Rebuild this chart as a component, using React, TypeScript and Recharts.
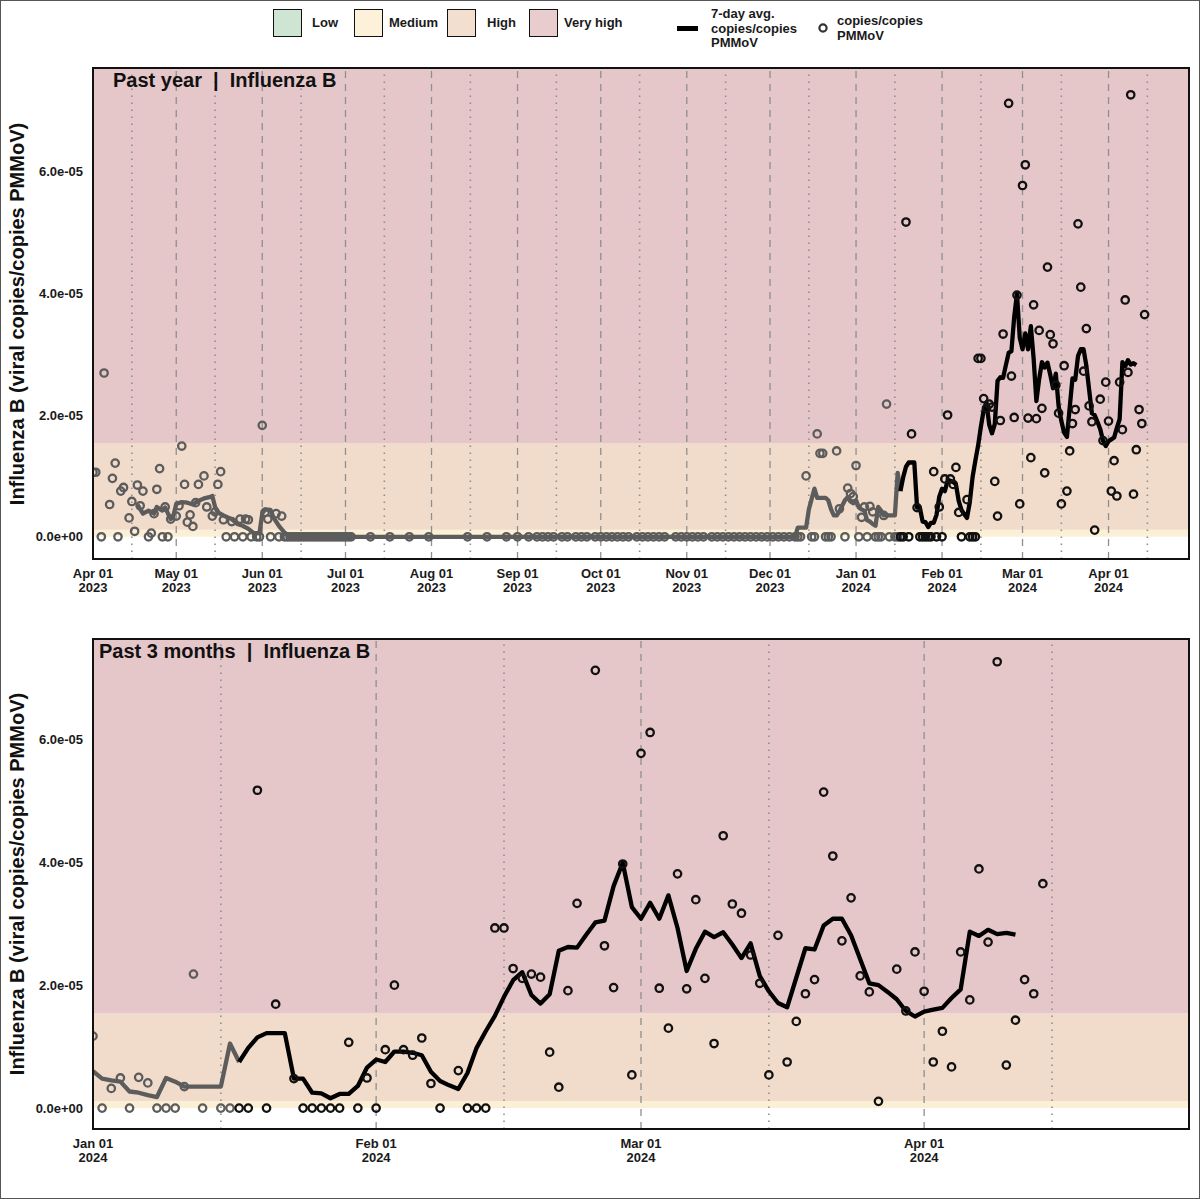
import React from "react";
import {
  ComposedChart,
  Line,
  Scatter,
  XAxis,
  YAxis,
  ReferenceArea,
  ReferenceLine,
} from "recharts";

// concentrations are in units of 1e-5 viral copies / copies PMMoV

const sampleDates2023 = [
  "04-01", "04-02", "04-04", "04-05", "04-07", "04-08", "04-09", "04-10", "04-11", "04-12",
  "04-14", "04-15", "04-16", "04-17", "04-18", "04-19", "04-21", "04-22", "04-23", "04-24",
  "04-25", "04-26", "04-27", "04-28", "04-29", "05-01", "05-02", "05-03", "05-04", "05-05",
  "05-06", "05-07", "05-08", "05-09", "05-11", "05-12", "05-14", "05-15", "05-16", "05-17",
  "05-18", "05-19", "05-21", "05-22", "05-24", "05-25", "05-26", "05-27", "05-28", "05-30",
  "05-31", "06-01", "06-02", "06-03", "06-04", "06-06", "06-07", "06-08", "06-09",
  "12-12", "12-14", "12-16", "12-17", "12-18", "12-19", "12-20", "12-21", "12-22", "12-23",
  "12-25", "12-26", "12-28", "12-29", "12-30", "12-31",
];
const sampleValues2023 = [
  1.06, 1.06, 0, 2.69, 0.53, 0.96, 1.21, 0, 0.75, 0.81,
  0.31, 0.58, 0.09, 0.85, 0.51, 0.75, 0, 0.06, 0.38, 0.78,
  1.12, 0, 0.49, 0, 0.29, 0.34, 0.51, 1.49, 0.86, 0.24,
  0.36, 0.17, 0.56, 0.86, 1.0, 0.49, 0.34, 0.41, 0.86, 1.07,
  0.28, 0, 0.25, 0, 0.29, 0, 0.29, 0.28, 0, 0,
  0, 1.83, 0.4, 0.29, 0, 0.38, 0, 0.34, 0,
  0, 1.0, 0, 0, 1.69, 1.37, 1.37, 0, 0, 0,
  1.41, 0.46, 0, 0.8, 0.71, 0.66,
];

// summer / autumn readings that were all zero
const zeroDates2023 = [
  "06-10", "06-11", "06-12", "06-13", "06-14", "06-15", "06-16", "06-17", "06-18", "06-19",
  "06-20", "06-21", "06-22", "06-23", "06-24", "06-25", "06-26", "06-27", "06-28", "06-29",
  "06-30", "07-01", "07-02", "07-03", "07-10", "07-17", "07-24", "07-31", "08-14", "08-21",
  "08-28", "09-01", "09-05", "09-08", "09-10", "09-12", "09-14", "09-17", "09-19", "09-22",
  "09-24", "09-26", "09-29", "10-01", "10-03", "10-05", "10-07", "10-09", "10-11", "10-14",
  "10-16", "10-18", "10-20", "10-22", "10-24", "10-28", "10-30", "11-01", "11-03", "11-05",
  "11-07", "11-10", "11-12", "11-14", "11-16", "11-18", "11-20", "11-22", "11-24", "11-26",
  "11-28", "11-30", "12-02", "12-04", "12-06", "12-08", "12-10", "12-11",
];

const sampleDates2024 = [
  "01-01", "01-02", "01-03", "01-04", "01-05", "01-06", "01-07", "01-08", "01-09", "01-10",
  "01-11", "01-12", "01-13", "01-15", "01-16", "01-17", "01-18", "01-19", "01-20", "01-21",
  "01-23", "01-24", "01-25", "01-26", "01-27", "01-28", "01-29", "01-30", "01-31", "02-01",
  "02-02", "02-03", "02-04", "02-05", "02-06", "02-07", "02-08", "02-10", "02-11", "02-12",
  "02-13", "02-14", "02-15", "02-16", "02-17", "02-18", "02-19", "02-20", "02-21", "02-22",
  "02-23", "02-25", "02-26", "02-27", "02-28", "02-29", "03-01", "03-02", "03-03", "03-04",
  "03-05", "03-06", "03-07", "03-08", "03-09", "03-10", "03-11", "03-12", "03-13", "03-14",
  "03-15", "03-16", "03-17", "03-18", "03-19", "03-20", "03-21", "03-22", "03-23", "03-24",
  "03-25", "03-26", "03-27", "03-29", "03-30", "03-31", "04-01", "04-02", "04-03", "04-04",
  "04-05", "04-06", "04-07", "04-08", "04-09", "04-10", "04-11", "04-12", "04-13", "04-14",
];
const sampleValues2024 = [
  1.17, 0, 0.32, 0.49, 0, 0.5, 0.41, 0, 0, 0,
  0.35, 2.18, 0, 0, 0, 0, 0, 5.17, 0, 1.69,
  0.48, 0, 0, 0, 0, 0, 1.07, 0, 0.49, 0,
  0.95, 2.0, 0.95, 0.86, 1.14, 0.4, 0, 0.61, 0, 0,
  0, 2.93, 2.93, 2.27, 2.11, 2.18, 2.13, 0.91, 0.34, 1.91,
  3.33, 7.12, 2.64, 1.96, 3.97, 0.54, 5.77, 6.11, 1.95, 1.3,
  3.81, 1.94, 3.39, 2.11, 1.05, 4.43, 3.32, 3.17, 2.49, 2.03,
  0.54, 2.81, 0.75, 1.41, 1.86, 2.09, 5.14, 4.1, 2.72, 3.42,
  2.15, 1.89, 0.11, 2.26, 1.58, 2.54, 1.9, 0.75, 1.25, 0.67,
  2.54, 1.76, 3.89, 2.7, 7.26, 0.7, 1.43, 2.09, 1.86, 3.65,
];

// 7-day average
const avgDates2023 = [
  "04-17", "04-19", "04-21", "04-23", "04-24", "04-26", "04-27", "04-29", "04-30", "05-01",
  "05-03", "05-05", "05-07", "05-09", "05-11", "05-13", "05-14", "05-15", "05-16", "05-18",
  "05-21", "05-23", "05-25", "05-27", "05-29", "05-31", "06-01", "06-02", "06-04", "06-05",
  "06-07", "06-09", "06-11", "12-10", "12-11", "12-14", "12-15", "12-16", "12-17", "12-18",
  "12-21", "12-22", "12-23", "12-24", "12-25", "12-26", "12-27", "12-28", "12-29", "12-30",
  "12-31",
];
const avgValues2023 = [
  0.53, 0.38, 0.43, 0.38, 0.49, 0.43, 0.48, 0.29, 0.35, 0.54,
  0.57, 0.56, 0.53, 0.59, 0.63, 0.65, 0.67, 0.49, 0.4, 0.35,
  0.29, 0.21, 0.18, 0.13, 0.06, 0.06, 0.38, 0.45, 0.44, 0.32,
  0.18, 0.07, 0, 0, 0.15, 0.15, 0.45, 0.62, 0.79, 0.64,
  0.64, 0.6, 0.45, 0.35, 0.35, 0.42, 0.51, 0.6, 0.65, 0.58,
  0.55,
];
// one value per day from Jan 01 2024 to Apr 11 2024
const avgDaily2024 = [
  0.6, 0.48, 0.45, 0.43, 0.27, 0.25, 0.21, 0.18, 0.49, 0.43,
  0.35, 0.35, 0.35, 0.35, 0.35, 1.05, 0.75, 0.98, 1.15, 1.22,
  1.22, 1.22, 0.48, 0.48, 0.25, 0.24, 0.16, 0.23, 0.23, 0.36,
  0.66, 0.79, 0.75, 0.92, 0.92, 0.9, 0.86, 0.59, 0.44, 0.37,
  0.31, 0.57, 0.98, 1.25, 1.5, 1.81, 2.08, 2.21, 1.84, 1.7,
  1.85, 2.56, 2.62, 2.61, 2.82, 3.02, 3.05, 3.61, 3.99, 3.27,
  3.08, 3.34, 3.08, 3.46, 2.93, 2.23, 2.59, 2.87, 2.78, 2.86,
  2.66, 2.44, 2.68, 2.15, 1.9, 1.71, 1.64, 2.12, 2.6, 2.58,
  2.97, 3.08, 3.08, 2.81, 2.42, 2.03, 2.0, 1.89, 1.77, 1.58,
  1.49, 1.57, 1.6, 1.63, 1.79, 1.93, 2.87, 2.8, 2.9, 2.83,
  2.85, 2.82,
];

const levelNames = ["Low", "Medium", "High", "Very high"];
const levelLower = [0, 0, 0.114, 1.54];
const levelUpper = [0, 0.114, 1.54, 8];

const monthStartsTop = [
  "2023-04-01", "2023-05-01", "2023-06-01", "2023-07-01", "2023-08-01", "2023-09-01", "2023-10-01",
  "2023-11-01", "2023-12-01", "2024-01-01", "2024-02-01", "2024-03-01", "2024-04-01",
];
const midMonthsTop = [
  "2023-04-15", "2023-05-15", "2023-06-15", "2023-07-15", "2023-08-15", "2023-09-15", "2023-10-15",
  "2023-11-15", "2023-12-15", "2024-01-15", "2024-02-15", "2024-03-15", "2024-04-15",
];
const monthStartsBottom = ["2024-01-01", "2024-02-01", "2024-03-01", "2024-04-01"];
const midMonthsBottom = ["2024-01-15", "2024-02-15", "2024-03-15", "2024-04-15"];
const monthLabels = ["Jan", "Feb", "Mar", "Apr", "May", "Jun", "Jul", "Aug", "Sep", "Oct", "Nov", "Dec"];

const FONT = '"Liberation Sans", Arial, Helvetica, sans-serif';
const levelFills = ["#cfe4d3", "#fbf0d6", "#f1dccb", "#e5c7c9"];
const legendFills = ["#cfe5d3", "#fdf2d9", "#f3dfcf", "#e8ccce"];
const GREY = "#5c5c5c";

const toDay = (iso: string) =>
  Date.UTC(+iso.slice(0, 4), +iso.slice(5, 7) - 1, +iso.slice(8, 10)) / 86400000;

type Pt = { t: number; v: number };

const samples: Pt[] = [
  ...sampleDates2023.map((d, i) => ({ t: toDay("2023-" + d), v: sampleValues2023[i] })),
  ...zeroDates2023.map((d) => ({ t: toDay("2023-" + d), v: 0 })),
  ...sampleDates2024.map((d, i) => ({ t: toDay("2024-" + d), v: sampleValues2024[i] })),
].sort((a, b) => a.t - b.t);

const averages: Pt[] = [
  ...avgDates2023.map((d, i) => ({ t: toDay("2023-" + d), v: avgValues2023[i] })),
  ...avgDaily2024.map((v, i) => ({ t: toDay("2024-01-01") + i, v })),
];

const splitDay = toDay("2024-01-17");

function DateTick(props: any) {
  const { x, y, payload } = props;
  const d = new Date(payload.value * 86400000);
  return (
    <text x={x} y={y} textAnchor="middle" fontSize={13} fontWeight={700} fill="#1a1a1a" fontFamily={FONT}>
      <tspan x={x} dy={19}>{`${monthLabels[d.getUTCMonth()]} 01`}</tspan>
      <tspan x={x} dy={14}>{d.getUTCFullYear()}</tspan>
    </text>
  );
}

const yTick = (v: number) => (v === 0 ? "0.0e+00" : `${v.toFixed(1)}e-05`);

const ring = (color: string, r: number) => (p: any) =>
  p.cx == null ? <g /> : <circle cx={p.cx} cy={p.cy} r={r} fill="none" stroke={color} strokeWidth={2.3} />;

interface PanelProps {
  top: number;
  height: number;
  marginTop: number;
  marginBottom: number;
  start: string;
  end: string;
  yDomain: [number, number];
  dashed: string[];
  dotted: string[];
  ticks: string[];
  title: string;
  titleLeft: number;
  titleTop: number;
}

function Panel(props: PanelProps) {
  const x0 = toDay(props.start);
  const x1 = toDay(props.end);
  const inRange = (p: Pt) => p.t >= x0 && p.t <= x1;
  const pts = samples.filter(inRange);
  const avg = averages.filter(inRange);
  const plotTop = props.top + props.marginTop;
  const plotBottom = props.top + props.height - props.marginBottom - 40;
  return (
    <>
      <div style={{ position: "absolute", left: 0, top: props.top }}>
        <ComposedChart
          width={1200}
          height={props.height}
          margin={{ top: props.marginTop, right: 12, bottom: props.marginBottom, left: 32 }}
        >
          <XAxis
            type="number"
            dataKey="t"
            domain={[x0, x1]}
            ticks={props.ticks.map(toDay)}
            interval={0}
            tick={(p: any) => <DateTick {...p} />}
            tickLine={false}
            axisLine={false}
            tickSize={0}
            tickMargin={0}
            height={40}
            allowDataOverflow
          />
          <YAxis
            type="number"
            dataKey="v"
            domain={props.yDomain}
            ticks={[0, 2, 4, 6]}
            tickFormatter={yTick}
            tickLine={false}
            axisLine={false}
            tickSize={0}
            tickMargin={10}
            width={60}
            tick={{ fontSize: 13, fontWeight: 700, fill: "#1a1a1a", fontFamily: FONT }}
            allowDataOverflow
          />
          {levelNames.slice(1).map((name, i) => (
            <ReferenceArea
              key={name}
              y1={levelLower[i + 1]}
              y2={Math.min(levelUpper[i + 1], props.yDomain[1])}
              fill={levelFills[i + 1]}
              fillOpacity={1}
              stroke="none"
            />
          ))}
          {props.dashed.map((d) => (
            <ReferenceLine key={d} x={toDay(d)} stroke="#8f8f8f" strokeWidth={1.3} strokeDasharray="7 6" />
          ))}
          {props.dotted.map((d) => (
            <ReferenceLine key={d} x={toDay(d)} stroke="#8f8f8f" strokeWidth={1.6} strokeDasharray="1.6 5.4" />
          ))}
          <Scatter
            data={pts.filter((p) => p.t < splitDay)}
            dataKey="v"
            shape={ring(GREY, 3.7)}
            isAnimationActive={false}
          />
          <Scatter
            data={pts.filter((p) => p.t >= splitDay)}
            dataKey="v"
            shape={ring("#111111", 3.7)}
            isAnimationActive={false}
          />
          <Line
            data={avg.filter((p) => p.t <= splitDay)}
            dataKey="v"
            type="linear"
            stroke={GREY}
            strokeWidth={4.3}
            strokeLinejoin="round"
            dot={false}
            activeDot={false}
            isAnimationActive={false}
          />
          <Line
            data={avg.filter((p) => p.t >= splitDay)}
            dataKey="v"
            type="linear"
            stroke="#000000"
            strokeWidth={4.3}
            strokeLinejoin="round"
            dot={false}
            activeDot={false}
            isAnimationActive={false}
          />
        </ComposedChart>
      </div>
      <div
        style={{
          position: "absolute",
          left: 91,
          top: plotTop - 1,
          width: 1098,
          height: plotBottom - plotTop + 2,
          border: "2px solid #111",
          boxSizing: "border-box",
          pointerEvents: "none",
        }}
      />
      <div
        style={{
          position: "absolute",
          left: props.titleLeft,
          top: props.titleTop,
          fontFamily: FONT,
          fontWeight: 700,
          fontSize: 20,
          lineHeight: "20px",
          whiteSpace: "pre",
          color: "#111",
        }}
      >
        {props.title}
      </div>
      <div
        style={{
          position: "absolute",
          left: 16,
          top: (plotTop + plotBottom) / 2,
          transform: "translate(-50%, -50%) rotate(-90deg)",
          fontFamily: FONT,
          fontWeight: 700,
          fontSize: 20,
          whiteSpace: "nowrap",
          color: "#111",
        }}
      >
        Influenza B (viral copies/copies PMMoV)
      </div>
    </>
  );
}

function LegendBar() {
  const boxLeft = [272, 353, 446, 528];
  const textLeft = [311, 388, 486, 563];
  const text: React.CSSProperties = {
    position: "absolute",
    fontFamily: FONT,
    fontSize: 13,
    fontWeight: 700,
    color: "#1a1a1a",
    lineHeight: "14.5px",
    whiteSpace: "nowrap",
  };
  return (
    <>
      {levelNames.map((name, i) => (
        <React.Fragment key={name}>
          <div
            style={{
              position: "absolute",
              left: boxLeft[i],
              top: 8,
              width: 29,
              height: 28,
              boxSizing: "border-box",
              border: "1.6px solid #111",
              background: legendFills[i],
            }}
          />
          <div style={{ ...text, left: textLeft[i], top: 15 }}>{name}</div>
        </React.Fragment>
      ))}
      <div style={{ position: "absolute", left: 676, top: 25, width: 21, height: 5, background: "#000" }} />
      <div style={{ ...text, left: 710, top: 6 }}>
        7-day avg.
        <br />
        copies/copies
        <br />
        PMMoV
      </div>
      <svg style={{ position: "absolute", left: 814, top: 19 }} width={16} height={16}>
        <circle cx={8} cy={8} r={3.6} fill="none" stroke="#333" strokeWidth={2.2} />
      </svg>
      <div style={{ ...text, left: 836, top: 13 }}>
        copies/copies
        <br />
        PMMoV
      </div>
    </>
  );
}

export default function App() {
  return (
    <div
      style={{
        position: "absolute",
        left: 0,
        top: 0,
        width: 1200,
        height: 1199,
        background: "#fff",
        border: "1px solid #555",
        boxSizing: "border-box",
        overflow: "hidden",
      }}
    >
      <LegendBar />
      <Panel
        top={0}
        height={600}
        marginTop={67}
        marginBottom={2}
        start="2023-04-01"
        end="2024-04-30"
        yDomain={[-0.365, 7.7]}
        dashed={monthStartsTop}
        dotted={midMonthsTop}
        ticks={monthStartsTop}
        title={"Past year  |  Influenza B"}
        titleLeft={112}
        titleTop={69}
      />
      <Panel
        top={600}
        height={599}
        marginTop={38}
        marginBottom={31}
        start="2024-01-01"
        end="2024-04-30"
        yDomain={[-0.34, 7.63]}
        dashed={monthStartsBottom}
        dotted={midMonthsBottom}
        ticks={monthStartsBottom}
        title={"Past 3 months  |  Influenza B"}
        titleLeft={98}
        titleTop={640}
      />
    </div>
  );
}
